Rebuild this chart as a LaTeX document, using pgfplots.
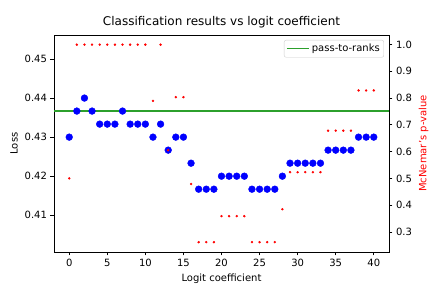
\documentclass[border=0pt]{standalone}
\usepackage{pgfplots}
\pgfplotsset{compat=1.18}
\usepackage{fontspec}
\setmainfont{DejaVu Sans}
\definecolor{tabgreen}{RGB}{44,160,44}
\begin{document}
\begin{tikzpicture}
\useasboundingbox (-54pt,-36pt) rectangle (378pt,252pt);
\begin{axis}[
  at={(0,0)}, anchor=south west,
  scale only axis, width=335pt, height=217pt,
  xmin=-2, xmax=42, ymin=0.40059, ymax=0.45615,
  xtick={0,5,...,40},
  ytick={0.41,0.42,0.43,0.44,0.45},
  yticklabel style={/pgf/number format/.cd, fixed, fixed zerofill, precision=2},
  /pgf/number format/assume math mode=true,
  tick label style={font=\fontsize{10}{12}\selectfont},
  label style={font=\fontsize{10}{12}\selectfont},
  tick align=outside, major tick length=3.5pt,
  tick style={line width=0.8pt, black},
  axis line style={line width=0.8pt},
  xtick pos=bottom, ytick pos=left,
  title={Classification results vs logit coefficient},
  title style={font=\fontsize{12}{14}\selectfont, yshift=-3pt},
  xlabel={Logit coefficient}, ylabel={Loss},
  legend style={at={(1,1)}, anchor=north east, xshift=-5pt, yshift=-5pt,
    font=\fontsize{10}{12}\selectfont, draw=black!20, rounded corners=2pt,
    inner sep=2pt},
  legend cell align=left,
  legend image code/.code={\draw[#1] (0cm,0cm) -- (0.78cm,0cm);},
]
\addplot[only marks, mark=*, mark size=3.4pt, color=blue, forget plot] coordinates {
(0,0.43000) (1,0.43667) (2,0.44000) (3,0.43667) (4,0.43333) (5,0.43333)
(6,0.43333) (7,0.43667) (8,0.43333) (9,0.43333) (10,0.43333) (11,0.43000)
(12,0.43333) (13,0.42667) (14,0.43000) (15,0.43000) (16,0.42333) (17,0.41667)
(18,0.41667) (19,0.41667) (20,0.42000) (21,0.42000) (22,0.42000) (23,0.42000)
(24,0.41667) (25,0.41667) (26,0.41667) (27,0.41667) (28,0.42000) (29,0.42333)
(30,0.42333) (31,0.42333) (32,0.42333) (33,0.42333) (34,0.42667) (35,0.42667)
(36,0.42667) (37,0.42667) (38,0.43000) (39,0.43000) (40,0.43000)
};
\addplot[color=tabgreen, line width=1.5pt] coordinates {(-2,0.43667) (42,0.43667)};
\addlegendentry{pass-to-ranks}
\end{axis}
\begin{axis}[
  at={(0,0)}, anchor=south west,
  scale only axis, width=335pt, height=217pt,
  xmin=-2, xmax=42, ymin=0.2253, ymax=1.035,
  axis x line=none, axis y line*=right,
  ytick={0.3,0.4,0.5,0.6,0.7,0.8,0.9,1.0},
  yticklabel style={/pgf/number format/.cd, fixed, fixed zerofill, precision=1},
  /pgf/number format/assume math mode=true,
  tick label style={font=\fontsize{10}{12}\selectfont},
  label style={font=\fontsize{10}{12}\selectfont},
  tick align=outside, major tick length=3.5pt,
  tick style={line width=0.8pt, black},
  ylabel={McNemar's p-value}, ylabel style={color=red},
  axis line style={-, line width=0.8pt},
]
\addplot[only marks, mark=*, mark size=1pt, color=red, mark options={draw=none}] coordinates {
(0,0.500) (1,0.999) (2,0.999) (3,0.999) (4,0.999) (5,0.999)
(6,0.999) (7,0.999) (8,0.999) (9,0.999) (10,0.999) (11,0.789)
(12,0.999) (13,0.605) (14,0.803) (15,0.803) (16,0.479) (17,0.262)
(18,0.262) (19,0.262) (20,0.359) (21,0.359) (22,0.359) (23,0.359)
(24,0.262) (25,0.262) (26,0.262) (27,0.262) (28,0.385) (29,0.523)
(30,0.523) (31,0.523) (32,0.523) (33,0.523) (34,0.678) (35,0.678)
(36,0.678) (37,0.678) (38,0.828) (39,0.828) (40,0.828)
};
\end{axis}
\end{tikzpicture}
\end{document}
